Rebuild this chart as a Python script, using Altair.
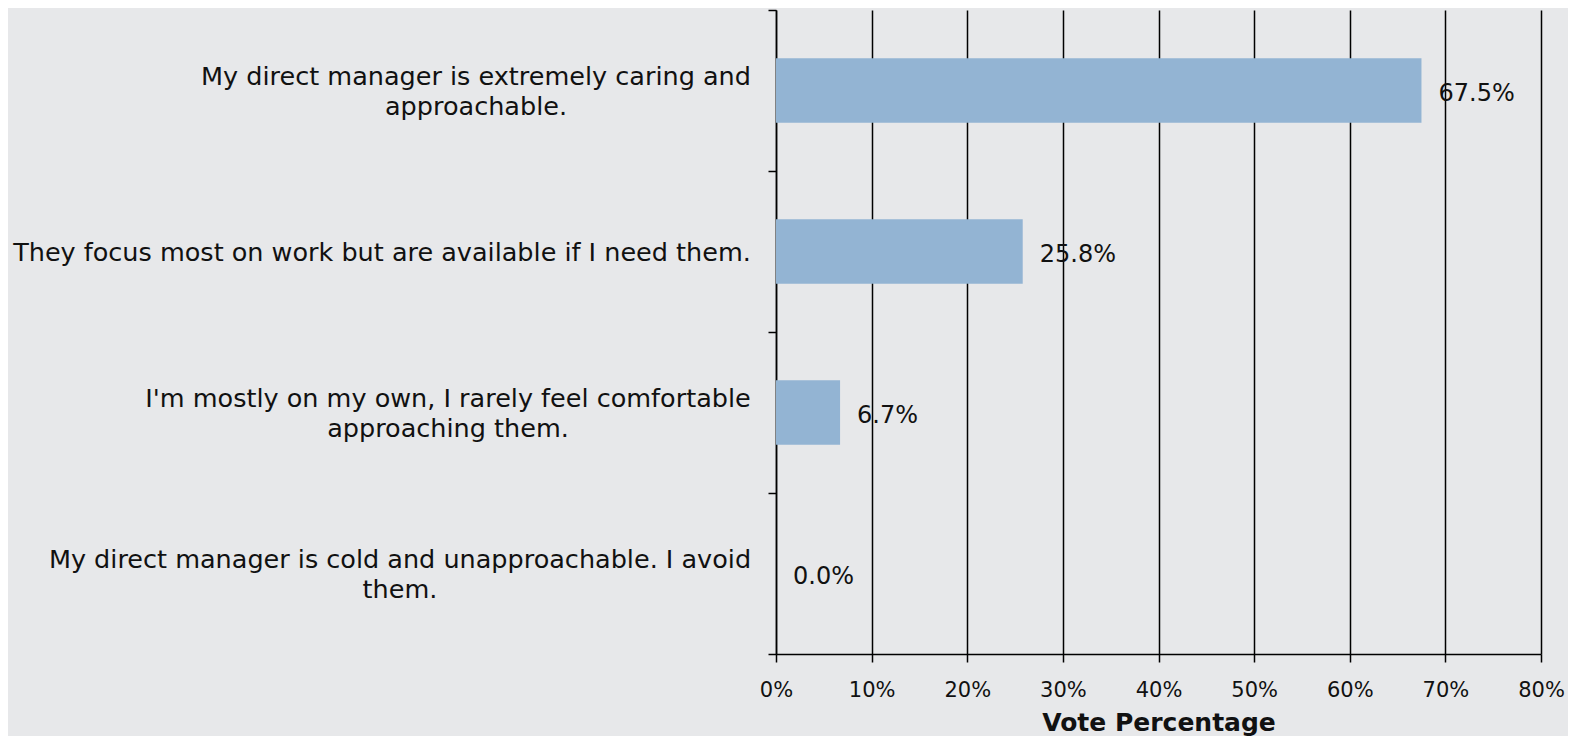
import altair as alt
import pandas as pd

categories = [
    "My direct manager is extremely caring and\napproachable.",
    "They focus most on work but are available if I need them.",
    "I'm mostly on my own, I rarely feel comfortable\napproaching them.",
    "My direct manager is cold and unapproachable. I avoid\nthem.",
]
shares = [0.675, 0.258, 0.067, 0.0]
x_ticks = [0.0, 0.1, 0.2, 0.3, 0.4, 0.5, 0.6, 0.7, 0.8]
x_title = "Vote Percentage"

df = pd.DataFrame({"answer": categories, "share": shares, "order": list(range(len(categories)))})

FONT = "DejaVu Sans"
CAT_FS = 25.5
FS = 24
TICK_FS = 21
TITLE_FS = 25
LINE_H = 30
BAR = "#93b4d3"
BG = "#e7e8ea"
INK = "#111111"

# distance from the category axis to the centre of each (centred) label block
label_shift = [300, 394, 328, 376]

y_enc = alt.Y(
    "answer:N",
    sort=categories,
    scale=alt.Scale(paddingInner=0, paddingOuter=0),
    axis=alt.Axis(
        title=None,
        labels=False,
        tickBand="extent",
        tickSize=8,
        tickColor="black",
        tickWidth=1.5,
        domainColor="black",
        domainWidth=1.5,
        grid=False,
    ),
)
x_enc = alt.X(
    "share:Q",
    scale=alt.Scale(domain=[0, 0.8], nice=False, zero=True),
    axis=alt.Axis(
        values=x_ticks,
        format=".0%",
        title=x_title,
        grid=True,
        gridColor="black",
        gridWidth=1.5,
        gridOpacity=1,
        domainColor="black",
        domainWidth=1.5,
        tickColor="black",
        tickWidth=1.5,
        tickSize=8,
        labelFlush=False,
        labelFont=FONT,
        labelFontSize=TICK_FS,
        labelColor=INK,
        labelPadding=17,
        titleFont=FONT,
        titleFontSize=TITLE_FS,
        titleFontWeight="bold",
        titleColor=INK,
        titlePadding=10,
    ),
)

base = alt.Chart(df).encode(y=y_enc, x=x_enc)
bars = base.mark_bar(color=BAR, height=alt.RelativeBandSize(band=0.4))
values = base.mark_text(
    align="left", baseline="middle", dx=17, dy=3,
    font=FONT, fontSize=FS, color=INK,
).encode(text=alt.Text("share:Q", format=".1%"))

cat_layers = []
for i, cat in enumerate(categories):
    n_lines = cat.count("\n") + 1
    cat_layers.append(
        alt.Chart(df)
        .transform_filter(alt.datum.order == i)
        .mark_text(
            align="center", baseline="middle", lineBreak="\n", lineHeight=LINE_H,
            font=FONT, fontSize=CAT_FS, color=INK,
            dx=-label_shift[i], dy=1 - (n_lines - 1) * LINE_H / 2,
        )
        .encode(y=alt.Y("answer:N", sort=categories), x=alt.value(0), text="answer:N")
    )

chart = alt.layer(bars, values, *cat_layers).properties(
    width=765,
    height=644,
    background=BG,
    autosize=alt.AutoSizeParams(type="none"),
    padding={"left": 768, "top": 2, "right": 27, "bottom": 82},
).configure_view(stroke=None)

chart.save("out.html", embed_options={"renderer": "svg", "actions": False})
